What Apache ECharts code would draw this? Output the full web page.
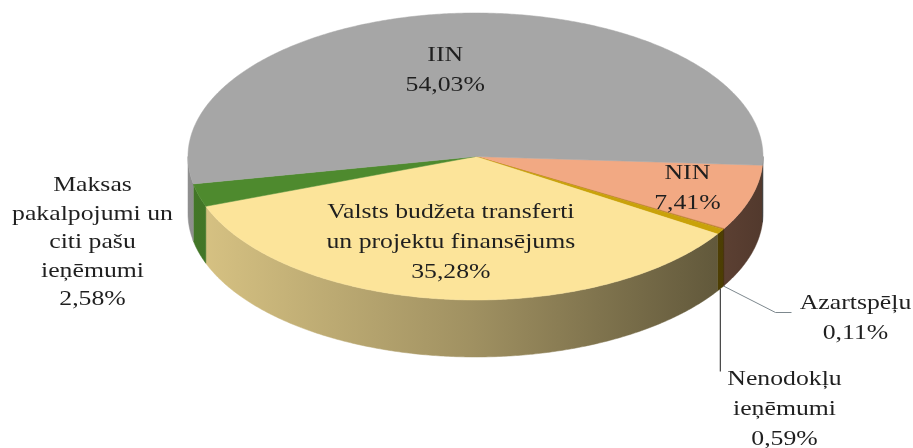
<!DOCTYPE html>
<html>
<head>
<meta charset="utf-8">
<script src="https://cdn.jsdelivr.net/npm/echarts@6/dist/echarts.min.js"></script>
<style>
  html, body { margin: 0; padding: 0; background: #fff; }
  #chart { width: 913px; height: 448px; }
</style>
</head>
<body>
<div id="chart"></div>
<script>
// slices, clockwise from the right edge
const categories = [
  'NIN',
  'Azartspēļu',
  'Nenodokļu\nieņēmumi',
  'Valsts budžeta transferti\nun projektu finansējums',
  'Maksas\npakalpojumi un\nciti pašu\nieņēmumi',
  'IIN'
];
const shares = [7.41, 0.11, 0.59, 35.28, 2.58, 54.03];
const topColors = ['#f2a983', '#b8782c', '#c9a20a', '#fce49a', '#4e8a2e', '#a6a6a6'];

// where each label goes: r = inside at a fraction of the radius, out = offset from the pie centre
const labelSpots = [
  { r: 0.77 },
  { out: [380, 162], leader: 'elbow' },
  { out: [309, 253], leader: 'down' },
  { r: 0.6, dx: -6 },
  { out: [-383, 86], lineHeight: 28.5 },
  { r: 0.6, dx: -19 }
];

// pie geometry (top ellipse + wall height)
const CX = 475.5, CY = 156.5, RX = 287.5, RY = 143.5, DEPTH = 57, START = 3.5;
const FONT = '"Liberation Serif", "Times New Roman", serif';

const total = shares.reduce((s, v) => s + v, 0);
const slices = [];
let acc = START;
shares.forEach(v => {
  const span = v / total * 360;
  slices.push({ from: acc, to: acc + span });
  acc += span;
});

function pt(deg, dy) {
  const r = deg * Math.PI / 180;
  return [CX + RX * Math.cos(r), CY + RY * Math.sin(r) + (dy || 0)];
}

function arc(from, to, dy) {
  const pts = [];
  const n = Math.max(2, Math.ceil((to - from) / 0.5));
  for (let k = 0; k <= n; k++) pts.push(pt(from + (to - from) * k / n, dy));
  return pts;
}

function shade(hex, f) {
  const n = parseInt(hex.slice(1), 16);
  const c = [(n >> 16) & 255, (n >> 8) & 255, n & 255].map(x => Math.round(x * f));
  return 'rgb(' + c.join(',') + ')';
}

function sideFill(color) {
  return {
    type: 'linear', x: CX - RX, y: 0, x2: CX + RX, y2: 0, global: true,
    colorStops: [
      { offset: 0, color: shade(color, 0.86) },
      { offset: 0.5, color: shade(color, 0.63) },
      { offset: 1, color: shade(color, 0.34) }
    ]
  };
}

function pctText(v) {
  return v.toFixed(2).replace('.', ',') + '%';
}

const seriesData = shares.map((v, i) => ({ value: v, name: categories[i] }));

function renderSide(params) {
  const s = slices[params.dataIndex];
  const color = topColors[params.dataIndex];
  const children = [];
  [[0, 180], [360, 540]].forEach(([lo, hi]) => {
    const a = Math.max(lo, s.from), b = Math.min(hi, s.to);
    if (b <= a) return;
    const pts = arc(a, b, 0).concat(arc(a, b, DEPTH).reverse());
    children.push({
      type: 'polygon',
      shape: { points: pts },
      style: { fill: sideFill(color), stroke: sideFill(color), lineWidth: 0.5 }
    });
  });
  return { type: 'group', children };
}

function renderTop(params) {
  const s = slices[params.dataIndex];
  const color = topColors[params.dataIndex];
  return {
    type: 'polygon',
    shape: { points: [[CX, CY]].concat(arc(s.from, s.to, 0)) },
    style: { fill: color, stroke: color, lineWidth: 0.5 }
  };
}

function renderLabel(params) {
  const i = params.dataIndex;
  const s = slices[i];
  const spot = labelSpots[i];
  const mid = (s.from + s.to) / 2;
  const children = [];
  let x, y;
  if (spot.out) {
    x = CX + spot.out[0];
    y = CY + spot.out[1];
  } else {
    const p = mid * Math.PI / 180;
    x = CX + spot.r * RX * Math.cos(p) + (spot.dx || 0);
    y = CY + spot.r * RY * Math.sin(p);
  }
  if (spot.leader === 'elbow') {
    const p0 = pt(mid, DEPTH);
    children.push({
      type: 'polyline',
      shape: { points: [p0, [x - 80, y - 6], [x - 64, y - 6]] },
      style: { stroke: '#7d888e', lineWidth: 1, fill: null }
    });
  } else if (spot.leader === 'down') {
    const p0 = pt(mid, DEPTH);
    children.push({
      type: 'polyline',
      shape: { points: [p0, [p0[0], y - 38]] },
      style: { stroke: '#1a1a1a', lineWidth: 1, fill: null }
    });
  }
  children.push({
    type: 'text',
    x: x, y: y, scaleX: 1.17,
    style: {
      text: categories[i] + '\n' + pctText(shares[i]),
      x: 0, y: 0,
      align: 'center', verticalAlign: 'middle',
      fontFamily: FONT, fontSize: 22,
      lineHeight: spot.lineHeight || 30,
      fill: '#1f1f1f'
    }
  });
  return { type: 'group', children };
}

const chart = echarts.init(document.getElementById('chart'));
chart.setOption({
  backgroundColor: '#ffffff',
  animation: false,
  series: [
    { type: 'custom', coordinateSystem: 'none', silent: true, z: 1, data: seriesData, renderItem: renderSide },
    { type: 'custom', coordinateSystem: 'none', silent: true, z: 2, data: seriesData, renderItem: renderTop },
    { type: 'custom', coordinateSystem: 'none', silent: true, z: 3, data: seriesData, renderItem: renderLabel }
  ]
});
</script>
</body>
</html>
